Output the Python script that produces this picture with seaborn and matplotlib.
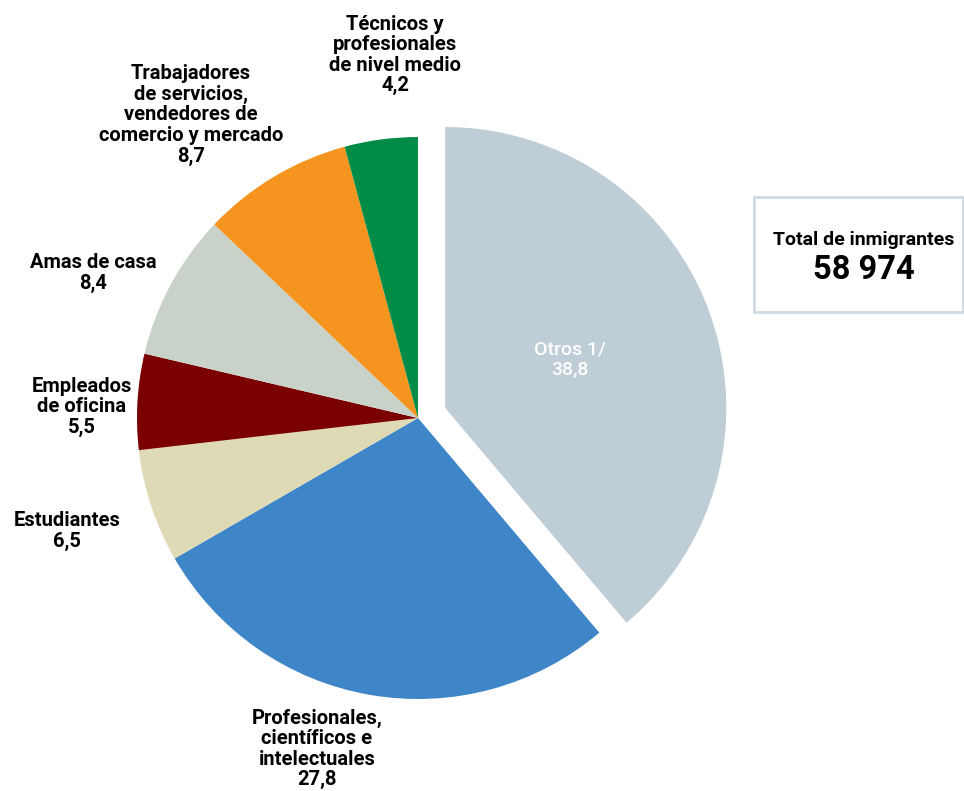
import numpy as np
import matplotlib
matplotlib.use("Agg")
import matplotlib.pyplot as plt
import seaborn as sns

# datos
categorias = ["Otros 1/", "Profesionales,\ncientíficos e\nintelectuales", "Estudiantes",
              "Empleados\nde oficina", "Amas de casa",
              "Trabajadores\nde servicios,\nvendedores de\ncomercio y mercado",
              "Técnicos y\nprofesionales\nde nivel medio"]
valores = [38.8, 27.8, 6.5, 5.5, 8.4, 8.7, 4.2]
etiquetas_valor = ["38,8", "27,8", "6,5", "5,5", "8,4", "8,7", "4,2"]
colores = ["#BFCDD6", "#3F86C8", "#DFDAB6", "#7B0000", "#C9D2C8", "#F59520", "#008C47"]
total_titulo = "Total de inmigrantes"
total_valor = "58 974"

sns.set_theme(style="white")
plt.rcParams['font.family'] = ['Roboto', 'DejaVu Sans']

W, H = 964, 791
fig = plt.figure(figsize=(W / 100, H / 100), dpi=100)
ax = fig.add_axes([0, 0, 1, 1])

cx, cy, r = 418, H - 418, 281
# explode en unidades de datos (pixeles)
explode = [29, 0, 0, 0, 0, 0, 0]
ax.pie(valores, colors=colores, startangle=90, counterclock=False,
       center=(cx, cy), radius=r, explode=explode, frame=True,
       wedgeprops=dict(linewidth=0))
ax.set_xlim(0, W)
ax.set_ylim(0, H)
ax.set_aspect('equal')
ax.axis('off')

# posiciones de etiquetas (en pixeles desde arriba)
pos = [(570, 360), (317, 749), (67, 531), (82, 407), (93, 273), (191, 115), (395, 55)]
for i, (x, y) in enumerate(pos):
    if i == 0:
        ax.text(x, H - y, categorias[i] + "\n" + etiquetas_valor[i], ha='center', va='center',
                fontsize=14, fontweight='medium', color='white', linespacing=1.15)
    else:
        ax.text(x, H - y, categorias[i] + "\n" + etiquetas_valor[i], ha='center', va='center',
                fontsize=14.5, fontweight='bold', color='black', linespacing=1.1)

# recuadro del total
rect = plt.Rectangle((754, H - 312), 209, 115, fill=False, edgecolor='#D0DAE2', linewidth=2)
ax.add_patch(rect)
ax.text(864, H - 240, total_titulo, ha='center', va='center', fontsize=14,
        fontweight='bold', color='black')
ax.text(864, H - 270, total_valor, ha='center', va='center', fontsize=23.5,
        fontweight='bold', color='black')

fig.savefig("out.png", dpi=100)
